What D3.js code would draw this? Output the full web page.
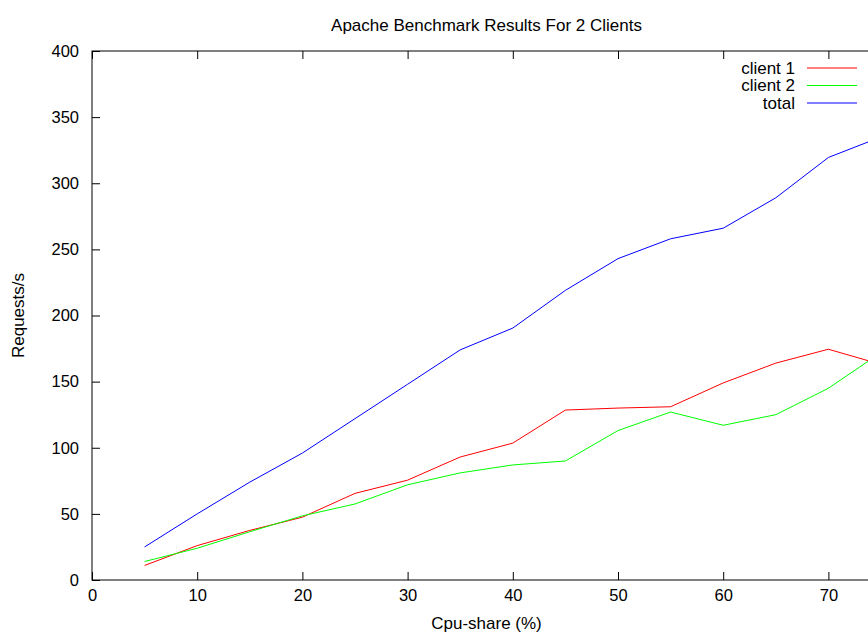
<!DOCTYPE html>
<html lang="en">
<head>
<meta charset="utf-8">
<title>Apache Benchmark Results For 2 Clients</title>
<style>
  body { margin: 0; background: #fff; overflow: hidden; }
  svg { display: block; }
  text { font-family: "Liberation Sans", Arial, sans-serif; }
</style>
</head>
<body>
<svg width="868" height="633"></svg>
<script src="https://d3js.org/d3.v7.min.js"></script>
<script>
// cpu share (%) on x, requests/s on y
var cpuShare = [5, 10, 15, 20, 25, 30, 35, 40, 45, 50, 55, 60, 65, 70, 75];
var client1  = [11, 26, 37.5, 47.5, 65.5, 75.5, 93, 103.5, 128.5, 130, 131, 149, 164, 174.5, 163];
var client2  = [14, 24, 36.5, 48.5, 57.5, 72, 81, 87, 90, 113, 127, 117, 125, 145, 172];
var total    = [25, 50, 74, 96, 122, 148, 174, 190.5, 219, 243, 258, 266, 289, 319.5, 335];

var xTicks = [0, 10, 20, 30, 40, 50, 60, 70];
var yTicks = [0, 50, 100, 150, 200, 250, 300, 350, 400];

var series = [
  {name: "client 1", values: client1, color: "#ff0000"},
  {name: "client 2", values: client2, color: "#00ff00"},
  {name: "total",    values: total,   color: "#0000ff"}
];

var svg = d3.select("svg"),
    margin = {top: 51, right: -13, bottom: 53, left: 92},
    width = +svg.attr("width") - margin.left - margin.right,
    height = +svg.attr("height") - margin.top - margin.bottom,
    g = svg.append("g").attr("transform", "translate(" + margin.left + "," + margin.top + ")");

var x = d3.scaleLinear().domain([0, 75]).range([0, width]);
var y = d3.scaleLinear().domain([0, 400]).range([height, 0]);

// title
svg.append("text")
    .attr("x", margin.left + width / 2)
    .attr("y", 31)
    .attr("text-anchor", "middle")
    .attr("font-size", 17)
    .text("Apache Benchmark Results For 2 Clients");

// axes, ticks pointing inward like gnuplot
g.append("g")
    .attr("transform", "translate(0," + height + ")")
    .call(d3.axisBottom(x).tickValues(xTicks).tickSize(-8).tickSizeOuter(0).tickPadding(9))
    .call(function(a) { a.selectAll("text").attr("font-size", 16.5).attr("fill", "#000"); });

g.append("g")
    .call(d3.axisTop(x).tickValues(xTicks).tickSize(-8).tickSizeOuter(0).tickFormat(""));

g.append("g")
    .call(d3.axisLeft(y).tickValues(yTicks).tickSize(-8).tickSizeOuter(0).tickPadding(13))
    .call(function(a) { a.selectAll("text").attr("font-size", 16.5).attr("fill", "#000"); });

g.append("g")
    .attr("transform", "translate(" + width + ",0)")
    .call(d3.axisRight(y).tickValues(yTicks).tickSize(-8).tickSizeOuter(0).tickFormat(""));

g.selectAll(".domain").remove();
g.append("rect")
    .attr("width", width)
    .attr("height", height)
    .attr("fill", "none")
    .attr("stroke", "#000")
    .attr("stroke-width", 1);

// axis titles
svg.append("text")
    .attr("x", margin.left + width / 2)
    .attr("y", 629)
    .attr("text-anchor", "middle")
    .attr("font-size", 17)
    .text("Cpu-share (%)");

svg.append("text")
    .attr("transform", "translate(24," + (margin.top + height / 2) + ") rotate(-90)")
    .attr("text-anchor", "middle")
    .attr("font-size", 17)
    .text("Requests/s");

var line = d3.line()
    .x(function(d, i) { return x(cpuShare[i]); })
    .y(function(d) { return y(d); });

g.selectAll(".series")
  .data(series)
  .enter().append("path")
    .attr("class", "series")
    .attr("fill", "none")
    .attr("stroke", function(d) { return d.color; })
    .attr("stroke-width", 1)
    .attr("d", function(d) { return line(d.values); });

// legend, top right inside the plot
var legend = svg.append("g").attr("transform", "translate(0,68)");
var row = legend.selectAll("g")
  .data(series)
  .enter().append("g")
    .attr("transform", function(d, i) { return "translate(0," + (i * 17.5) + ")"; });

row.append("text")
    .attr("x", 795)
    .attr("dy", "0.35em")
    .attr("text-anchor", "end")
    .attr("font-size", 17)
    .text(function(d) { return d.name; });

row.append("line")
    .attr("x1", 807)
    .attr("x2", 857)
    .attr("stroke", function(d) { return d.color; })
    .attr("stroke-width", 1);
</script>
</body>
</html>
